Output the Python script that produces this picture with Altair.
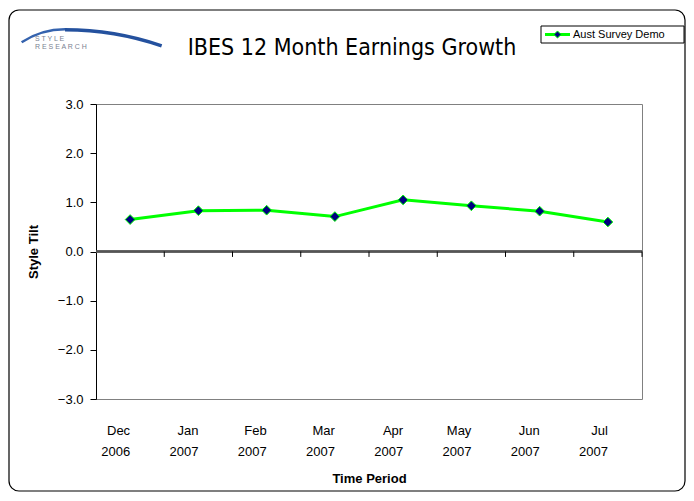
import altair as alt
import pandas as pd

# ---- data ----
periods = ["Dec 2006", "Jan 2007", "Feb 2007", "Mar 2007",
           "Apr 2007", "May 2007", "Jun 2007", "Jul 2007"]
values = [0.65, 0.83, 0.84, 0.71, 1.05, 0.93, 0.82, 0.60]
series_name = "Aust Survey Demo"
title_text = "IBES 12 Month Earnings Growth"
y_ticks = [-3, -2, -1, 0, 1, 2, 3]

df = pd.DataFrame({"period": periods, "value": values})
one = pd.DataFrame({"a": [0]})

W, H = 546, 295

x_enc = alt.X(
    "period:N", sort=None,
    scale=alt.Scale(domain=periods, paddingInner=0, paddingOuter=0),
    axis=alt.Axis(
        title="Time Period", labelAngle=0, domain=False, ticks=False,
        labelPadding=31, labelExpr="split(datum.label, ' ')",
        labelLineHeight=21, labelFontSize=13, labelColor="#000000",
        titleFontSize=13, titleFontWeight="bold", titleColor="#000000",
        titleY=79, titleBaseline="middle",
    ),
)
y_enc = alt.Y(
    "value:Q",
    scale=alt.Scale(domain=[-3, 3], nice=False, zero=False),
    axis=alt.Axis(
        values=y_ticks, format=".1f", grid=False,
        domainColor="#000000", tickColor="#000000", tickSize=6,
        labelFontSize=13, labelColor="#000000", labelPadding=7,
        title="Style Tilt", titleFontSize=13, titleFontWeight="bold",
        titleColor="#000000", titleX=-63, titleY=H / 2, titleAngle=270,
        titleAlign="center", titleBaseline="middle",
    ),
)

base_one = alt.Chart(one)

# outer rounded border
border = base_one.mark_rect(
    fill=None, stroke="#000000", strokeWidth=1.2, cornerRadius=10
).encode(x=alt.value(-87), x2=alt.value(589), y=alt.value(-94), y2=alt.value(387))

# logo
swoosh_l = base_one.mark_arc(
    radius=80, radius2=77.5, theta=5.70, theta2=6.2832, color="#3563ae"
).encode(x=alt.value(-31), y=alt.value(4))
swoosh_r = base_one.mark_arc(
    radius=300, radius2=296.5, theta=0.0, theta2=0.33, color="#24519e"
).encode(x=alt.value(-31), y=alt.value(224))
logo1 = base_one.mark_text(
    text="S T Y L E", fontSize=7, color="#7a8292", align="left",
    baseline="middle", font="Liberation Sans"
).encode(x=alt.value(-61), y=alt.value(-65))
logo2 = base_one.mark_text(
    text="R E S E A R C H", fontSize=7, color="#7a8292", align="left",
    baseline="middle", font="Liberation Sans"
).encode(x=alt.value(-61), y=alt.value(-57))

# title
title = base_one.mark_text(
    text=title_text, fontSize=23, font="DejaVu Sans Condensed, Liberation Sans",
    color="#000000", align="center", baseline="middle"
).encode(x=alt.value(256), y=alt.value(-56))

# zero line and category ticks
zero_rule = alt.Chart(df).mark_rule(color="#555555", strokeWidth=1.5).encode(
    y=alt.datum(0)
)
ticks = alt.Chart(df).mark_rule(color="#000000", strokeWidth=1).encode(
    x=alt.X("period:N", sort=None, bandPosition=1),
    y=alt.datum(0), y2=alt.datum(-0.11)
)

line = alt.Chart(df).mark_line(color="#00ff00", strokeWidth=3).encode(x=x_enc, y=y_enc)
points = alt.Chart(df).mark_point(
    shape="diamond", filled=True, fill="#000080", stroke="#00ff00",
    strokeWidth=1, size=95, opacity=1
).encode(x=x_enc, y=y_enc)

# legend
leg_box = base_one.mark_rect(fill="#ffffff", stroke="#000000", strokeWidth=1).encode(
    x=alt.value(445), x2=alt.value(588), y=alt.value(-78), y2=alt.value(-61)
)
leg_line = base_one.mark_rule(color="#00ff00", strokeWidth=3).encode(
    x=alt.value(449), x2=alt.value(474), y=alt.value(-69.5)
)
leg_pt = base_one.mark_point(
    shape="diamond", filled=True, fill="#000080", stroke="#00ff00",
    strokeWidth=1, size=50, opacity=1
).encode(x=alt.value(461.5), y=alt.value(-69.5))
leg_txt = base_one.mark_text(
    text=series_name, fontSize=11, font="Liberation Sans", color="#000000",
    align="left", baseline="middle"
).encode(x=alt.value(477), y=alt.value(-69.5))

chart = alt.layer(
    border, swoosh_l, swoosh_r, logo1, logo2, title, zero_rule, ticks, line, points,
    leg_box, leg_line, leg_pt, leg_txt
).properties(
    width=W, height=H,
    autosize=alt.AutoSizeParams(type="none"),
    padding={"left": 88, "top": 96, "right": 44, "bottom": 94},
    background="#ffffff",
).configure_view(
    stroke="#808080", strokeWidth=1
).configure_axis(
    labelFont="Liberation Sans", titleFont="Liberation Sans"
)

chart.save("out.html", embed_options={"renderer": "svg", "actions": False})
